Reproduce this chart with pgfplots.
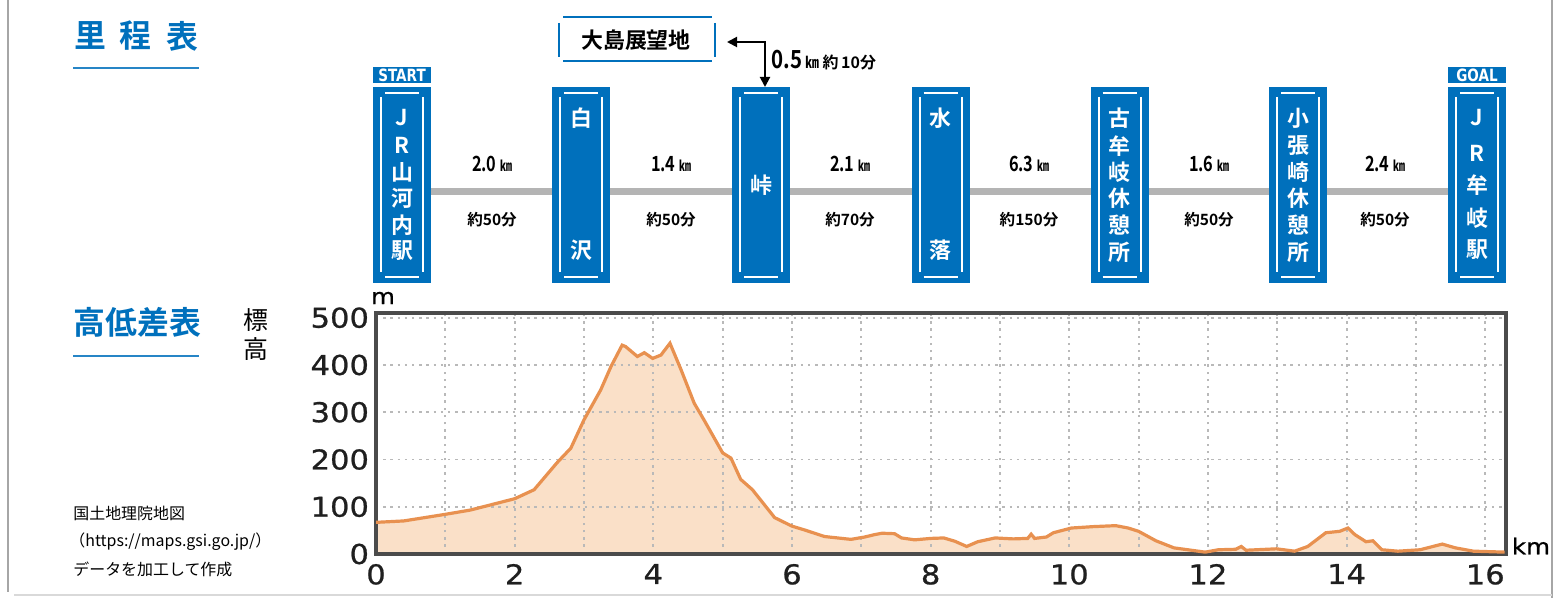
\documentclass[border=0pt]{standalone}
\usepackage{fontspec}
\usepackage{graphicx}
\usepackage{pgfplots}
\pgfplotsset{compat=1.18}
\usepackage{pgfplotstable}
\usetikzlibrary{arrows.meta}

\setmainfont{Noto Sans CJK JP}
\newfontfamily\jp{Noto Sans CJK JP}
\newfontfamily\jpb{Noto Sans CJK JP Bold}
\newfontfamily\tickfont{DejaVu Sans}[FakeStretch=1.12, FakeBold=0.8]
\newfontfamily\tabfont{DejaVu Sans Bold}

\definecolor{jblue}{RGB}{0,112,188}
\definecolor{track}{RGB}{180,180,180}
\definecolor{prof}{RGB}{232,145,80}
\definecolor{proffill}{RGB}{250,224,200}
\definecolor{frame}{RGB}{75,75,75}

% elevation profile, km / m
\pgfplotstableread{
km elev
0.00 67
0.40 70
1.00 84
1.36 93
2.00 117
2.28 136
2.61 193
2.81 224
3.00 284
3.24 347
3.39 397
3.55 442
3.60 439
3.77 418
3.87 426
3.99 414
4.11 421
4.24 446
4.40 390
4.59 319
4.73 284
5.00 214
5.12 203
5.26 158
5.43 136
5.75 77
6.00 59
6.18 51
6.47 37
6.85 31
7.05 36
7.19 41
7.30 44
7.48 43
7.58 34
7.77 30
8.00 33
8.19 34
8.35 27
8.52 16
8.68 26
8.93 34
9.19 32
9.40 33
9.45 42
9.50 33
9.67 36
9.77 45
10.03 55
10.35 58
10.67 60
10.85 55
11.00 48
11.25 28
11.51 13
11.96 4
12.15 9
12.40 10
12.48 16
12.55 8
12.99 11
13.25 6
13.44 16
13.70 45
13.90 48
14.02 55
14.12 41
14.28 26
14.38 28
14.51 9
14.74 6
15.06 9
15.38 21
15.57 13
15.83 6
16.28 4
}\profile

\newcommand\station[2]{%
  \fill[jblue] ({#1-29},87) rectangle ({#1+29},283);
  \draw[white, line width=1bp]
    ({#1-21},97) -- ({#1-21},272) ({#1+21},97) -- ({#1+21},272)
    ({#1-17},93) -- ({#1+17},93) ({#1-17},277) -- ({#1+17},277);
  \foreach \ch/\yy in {#2}
    \node[white, font=\jpb\fontsize{11}{11}\selectfont] at (#1,\yy) {\ch};
}
\newcommand\seg[3]{%
  \node[font=\jpb\fontsize{10.5}{10.5}\selectfont] at (#1,164)
    {\scalebox{0.78}[1]{#2}\,{\fontsize{7.5}{7.5}\selectfont\scalebox{0.8}[1]{㎞}}};
  \node[font=\jpb\fontsize{7.8}{7.8}\selectfont] at (#1,220) {#3};
}

\begin{document}
\begin{tikzpicture}[x=0.5bp, y=-0.5bp]
% page frame
\draw[gray!70, line width=1bp] (8,0) -- (8,592);
\draw[gray!70, line width=1bp] (1552,0) -- (1552,598);
\draw[gray!30, line width=1bp] (14,595) -- (1552,595);

% titles
\foreach \ch/\xx in {里/90, 程/135, 表/182}
  \node[jblue, font=\jpb\fontsize{16}{16}\selectfont] at (\xx,36) {\ch};
\draw[jblue!85, line width=1.3bp] (73,68) -- (199,68);
\node[anchor=west, inner sep=0pt, jblue, font=\jpb\fontsize{16}{16}\selectfont] at (73,322) {高低差表};
\draw[jblue!85, line width=1.3bp] (73,356) -- (199,356);
\node[font=\jp\fontsize{12.5}{12.5}\selectfont] at (256,320) {標};
\node[font=\jp\fontsize{12.5}{12.5}\selectfont] at (256,349) {高};

% source note
\node[anchor=west, inner sep=0pt, font=\jp\fontsize{8}{8}\selectfont] at (73,513) {国土地理院地図};
\node[anchor=west, inner sep=0pt, font=\jp\fontsize{8}{8}\selectfont] at (69,542) {（https://maps.gsi.go.jp/）};
\node[anchor=west, inner sep=0pt, font=\jp\fontsize{8}{8}\selectfont] at (73,569) {データを加工して作成};

% route diagram
\draw[track, line width=3.5bp] (431,191.5) -- (1448,191.5);
\station{402}{J/118,R/145,山/172,河/198,内/225,駅/251}
\station{581}{白/118,沢/250}
\station{761}{峠/185}
\station{940.5}{水/118,落/250}
\station{1119.5}{古/118,牟/146,岐/172,休/198,憩/225,所/252}
\station{1298}{小/118,張/146,崎/172,休/198,憩/225,所/252}
\station{1477}{J/118,R/153,牟/185,岐/218,駅/250}
\fill[jblue] (373,67) rectangle (431,83);
\node[white, font=\tabfont\fontsize{8.5}{8.5}\selectfont] at (402,75.5) {\scalebox{0.8}[1]{START}};
\fill[jblue] (1448,67) rectangle (1506,83);
\node[white, font=\tabfont\fontsize{8.5}{8.5}\selectfont] at (1477,75.5) {\scalebox{0.8}[1]{GOAL}};

\seg{492}{2.0}{約50分}
\seg{671}{1.4}{約50分}
\seg{850}{2.1}{約70分}
\seg{1029}{6.3}{約150分}
\seg{1209}{1.6}{約50分}
\seg{1385}{2.4}{約50分}

% side trip
\draw[jblue, line width=1bp] (563,17) -- (712,17) (563,61) -- (712,61)
  (559,23) -- (559,57) (715,23) -- (715,57);
\node[font=\jpb\fontsize{11}{11}\selectfont] at (636,40) {大島展望地};
\draw[line width=1bp, {Triangle[length=5bp,width=5bp]}-{Triangle[length=5bp,width=5bp]}]
  (727,42) -- (765,42) -- (765,87);
\node[anchor=west, inner sep=0pt, font=\jpb] at (771,60)
  {{\fontsize{12.5}{12.5}\selectfont\scalebox{0.82}[1]{0.5}}\,{\fontsize{8}{8}\selectfont\scalebox{0.85}[1]{㎞}\ 約\,10分}};

% elevation chart
\begin{axis}[
    at={(188bp,-277bp)}, anchor=south west,
    scale only axis, width=565bp, height=120.5bp,
    set layers,
    xmin=0, xmax=16.3, ymin=0, ymax=510,
    xtick={0,2,...,16}, minor xtick={1,3,...,15},
    ytick={0,100,...,500},
    grid=both,
    major grid style={gray!55, line width=0.9bp, dash pattern=on 1.2bp off 2.4bp},
    minor grid style={gray!55, line width=0.9bp, dash pattern=on 1.2bp off 2.4bp},
    axis line style={frame, line width=2bp},
    tick style={draw=none},
    /pgf/number format/assume math mode=true,
    tick label style={font=\tickfont\fontsize{13.7}{14}\selectfont, text=black!88},
    xticklabel style={yshift=-1.5bp},
]
\addplot[on layer=axis background, draw=none, fill=proffill] table[x=km, y=elev] {\profile} \closedcycle;
\addplot[prof, line width=1.6bp] table[x=km, y=elev] {\profile};
\end{axis}
\node[font=\tickfont\fontsize{11}{11}\selectfont] at (383,298) {m};
\node[font=\tickfont\fontsize{11}{11}\selectfont] at (1531,546) {km};

\pgfresetboundingbox
\path (0,0) rectangle (1559,598);
\end{tikzpicture}
\end{document}
